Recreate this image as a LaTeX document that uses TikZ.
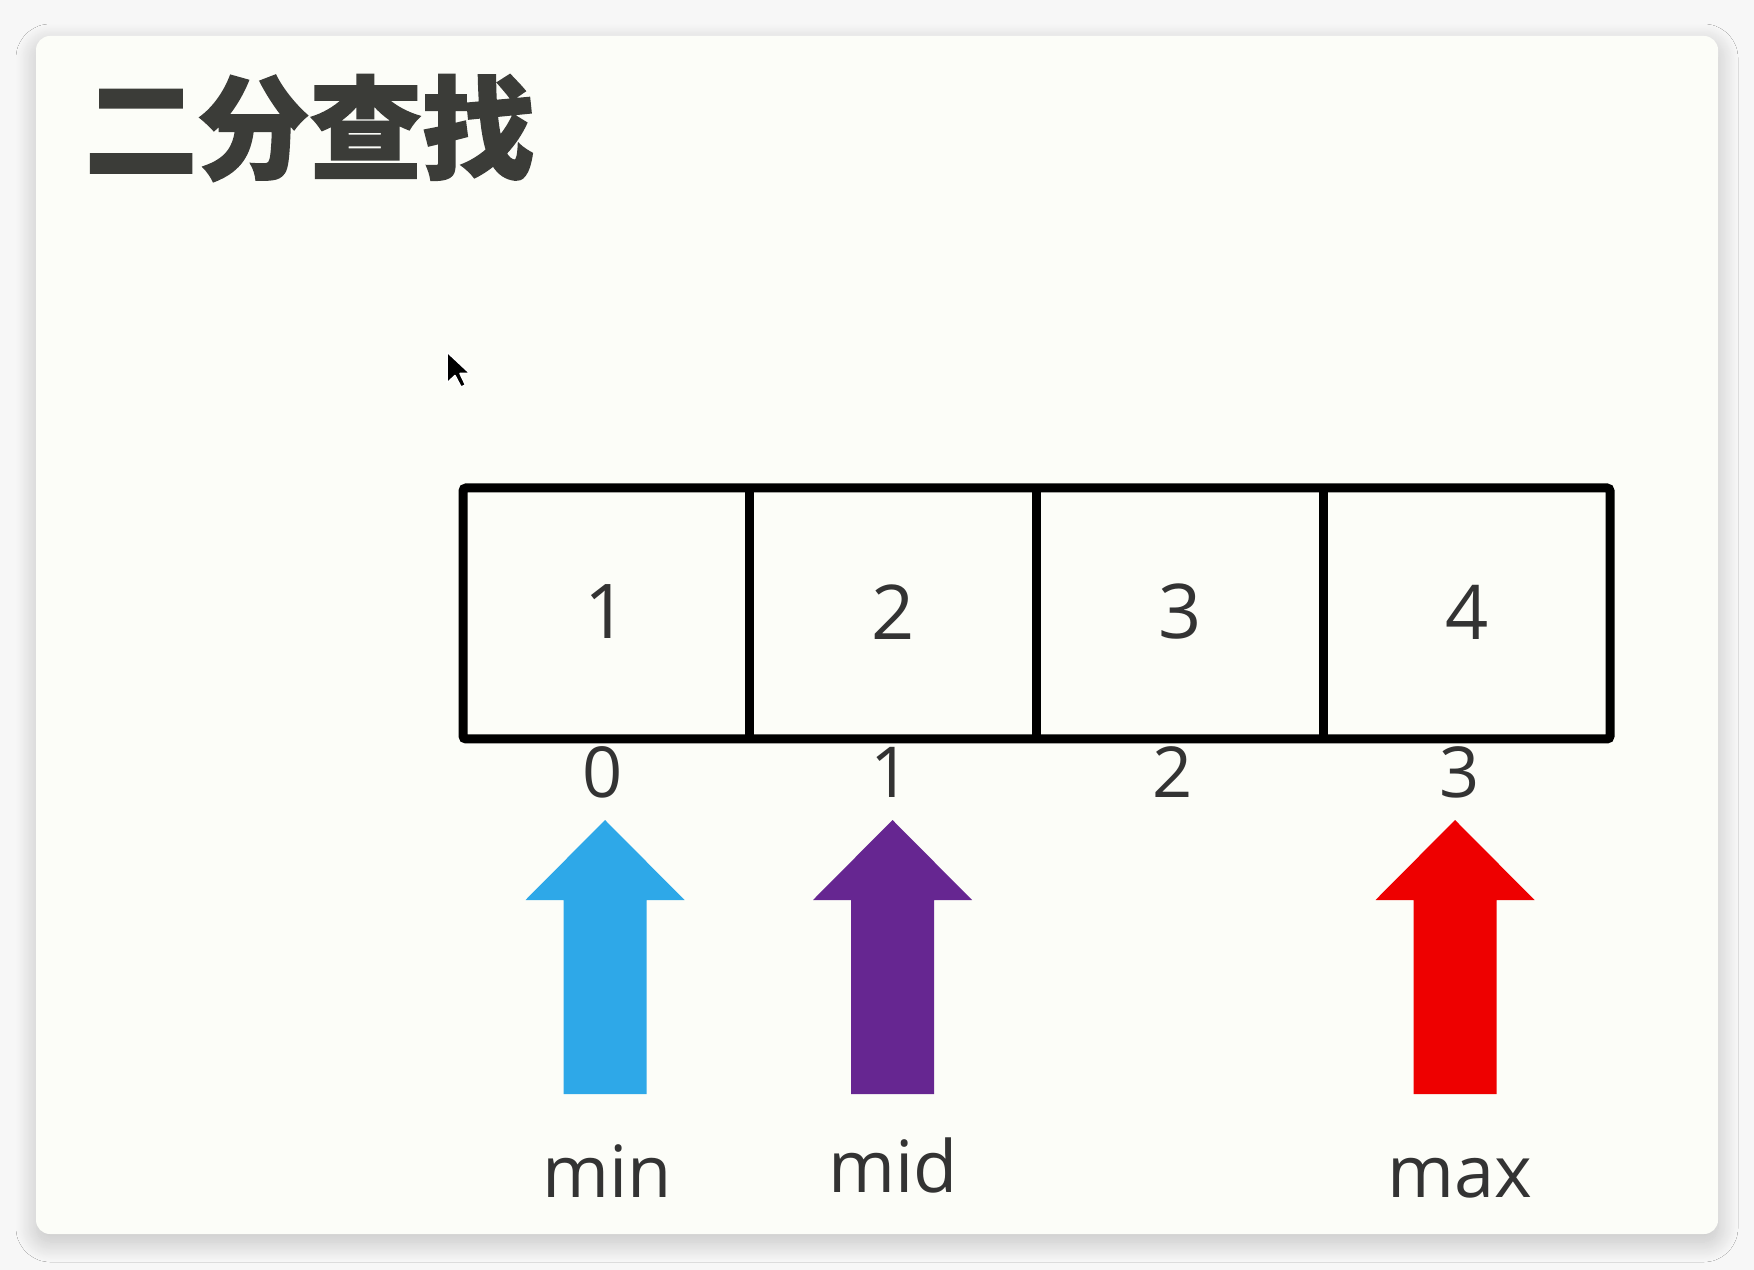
\documentclass[tikz,border=0pt]{standalone}
\usepackage{fontspec}
\setmainfont{Open Sans}
\newfontfamily\cjk{Noto Sans CJK SC}[BoldFeatures={FakeBold=1.5}]
\usepackage{tikz}
\usetikzlibrary{shadows.blur}
\definecolor{pagegray}{HTML}{F7F7F7}
\definecolor{cardwhite}{HTML}{FCFDF8}
\definecolor{titlegray}{HTML}{3B3C38}
\definecolor{textgray}{HTML}{333333}
\definecolor{minblue}{HTML}{2EA8E8}
\definecolor{midpurple}{HTML}{662691}
\definecolor{maxred}{HTML}{EE0000}
\def\blockarrow[#1](#2){\fill[#1] (#2-79.5, 900) -- (#2, 820) -- (#2+79.5, 900) -- (#2+41.5, 900) -- (#2+41.5, 1094) -- (#2-41.5, 1094) -- (#2-41.5, 900) -- cycle;}

\begin{document}
\begin{tikzpicture}[x=0.1mm, y=-0.1mm,
		cellnum/.style={inner sep=0pt, text=textgray, font=\fontsize{21.5}{24}\selectfont},
		idxnum/.style={inner sep=0pt, text=textgray, font=\fontsize{20}{22}\selectfont},
		ptrlabel/.style={inner sep=0pt, anchor=base, text=textgray, font=\fontsize{20.5}{23}\selectfont}]
		%%%%% START %%%%%
		
		\useasboundingbox (0, 0) rectangle (1754, 1270);
		\fill[pagegray] (0, 0) rectangle (1754, 1270);
		\fill[cardwhite, rounded corners=1.4mm, blur shadow={shadow xshift=0pt, shadow yshift=-0.8mm, shadow blur radius=2mm, shadow blur steps=25, shadow opacity=22}] (36, 36) rectangle (1718, 1234);
		
		\node[inner sep=0pt, anchor=west, text=titlegray, font=\cjk\bfseries\fontsize{32}{36}\selectfont] (title) at (84, 128) {二分查找};
		
		% cursor
		\filldraw[fill=black, draw=white, line width=0.15mm, line join=round] (447, 352) -- (447, 383) -- (455, 375.5) -- (461, 387) -- (465.5, 385) -- (460, 373.5) -- (470, 373.5) -- cycle;
		
		\draw[line width=0.9mm, rounded corners=0.3mm] (463, 488) rectangle (1610, 739);
		\foreach \x in {749.75, 1036.5, 1323.25}
			\draw[line width=0.9mm] (\x, 488) -- (\x, 739);
		
		\foreach \v [count=\i] in {1, 2, 3, 4}
			\node[cellnum] (val\i) at ({463+286.75*(\i-0.5)}, 612) {\v};
		
		\foreach \v/\x in {0/603, 1/891, 2/1173, 3/1460}
			\node[idxnum] (idx\v) at (\x, 772) {\v};
		
		\blockarrow[minblue](605)
		\blockarrow[midpurple](892.5)
		\blockarrow[maxred](1455)
		
		\node[ptrlabel] (minlbl) at (607, 1197) {min};
		\node[ptrlabel] (midlbl) at (893, 1192) {mid};
		\node[ptrlabel] (maxlbl) at (1460, 1197) {max};
		
		%%%%% END %%%%%
	\end{tikzpicture}
\end{document}
